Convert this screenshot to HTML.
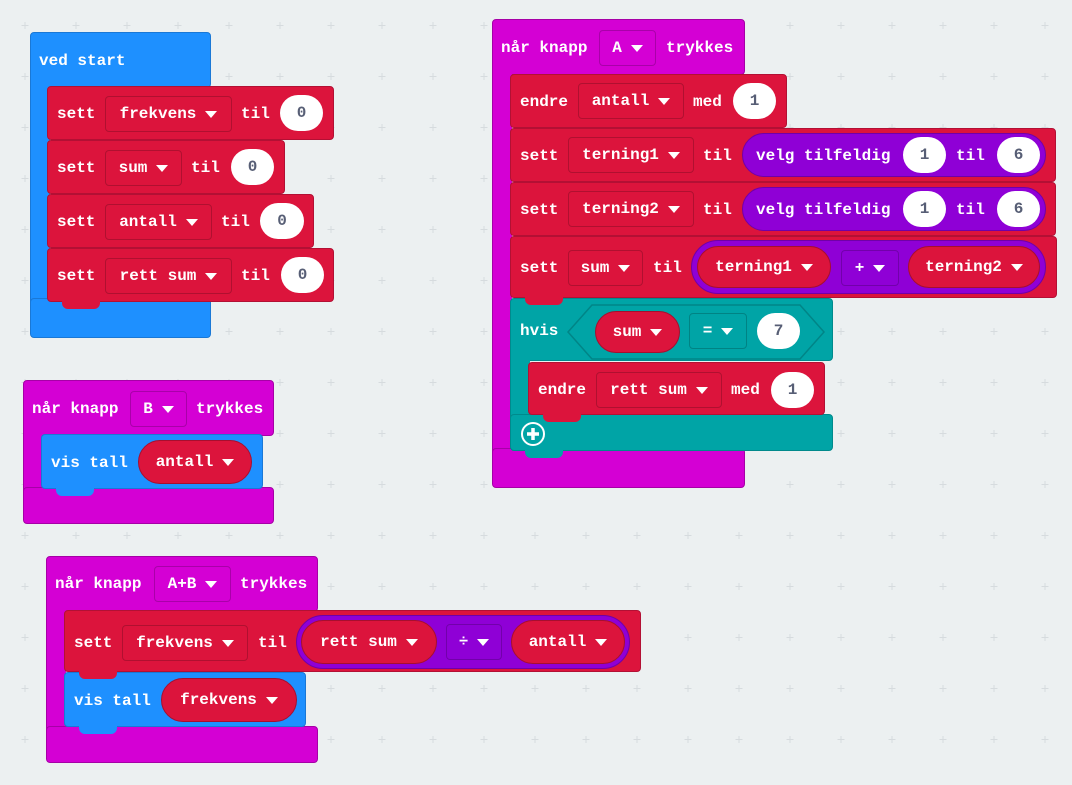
<!DOCTYPE html>
<html><head><meta charset="utf-8"><style>
html,body{margin:0;padding:0}
body{width:1072px;height:785px;position:relative;overflow:hidden;background:#ecf0f1;font-family:"Liberation Mono",monospace}
.b{position:absolute;box-sizing:border-box;border-radius:4px}
.red{background:#dc143c;border:1px solid #b31034}
.mag{background:#d400d4;border:1px solid #a600a6}
.blu{background:#1e90ff;border:1px solid #1a78d6}
.teal{background:#00a4a6;border:1px solid #008a8c}
.pur{background:#8f00d6;border:1px solid #7000a8}
.strip{border-top:0!important;border-bottom:0!important;border-right:0!important;border-radius:0}
.t{position:absolute;color:#fff;font:bold 16px "Liberation Mono",monospace;line-height:20px;white-space:pre}
.dd{position:absolute;box-sizing:border-box;border:1px solid rgba(0,0,0,.2);border-radius:4px;display:flex;align-items:center;justify-content:center;color:#fff;font:bold 16px "Liberation Mono",monospace;white-space:pre;height:36px}
.num{position:absolute;box-sizing:border-box;background:#fff;border-radius:18px;display:flex;align-items:center;justify-content:center;color:#575e75;font:bold 16px "Liberation Mono",monospace;height:36px}
.pill{position:absolute;box-sizing:border-box;background:#dc143c;border:1px solid #a80e2e;display:flex;align-items:center;justify-content:center;color:#fff;font:bold 16px "Liberation Mono",monospace;white-space:pre}
.tri{display:inline-block;width:0;height:0;border-left:6px solid transparent;border-right:6px solid transparent;border-top:7px solid #fff;margin-left:9px}
.tab{position:absolute;height:8px;width:38px;border-radius:0 0 6px 6px}
</style></head><body>
<svg style="position:absolute;left:0;top:0" width="1072" height="785"><defs><pattern id="p" x="0" y="0" width="51" height="51" patternUnits="userSpaceOnUse"><path d="M25 22v7M21.5 25.5h7" stroke="#d6dbde" stroke-width="1"/></pattern></defs><rect width="1072" height="785" fill="url(#p)"/></svg>

<!-- ved start -->
<div class="b blu" style="left:30px;top:32px;width:181px;height:56px"></div>
<div class="b blu strip" style="left:30px;top:80px;width:20px;height:240px"></div>
<div class="b blu" style="left:30px;top:298px;width:181px;height:40px"></div>
<div class="t" style="left:39px;top:51px">ved start</div>

<div class="b red" style="left:47px;top:86px;width:287px;height:54px"></div>
<div class="t" style="left:57px;top:104px">sett</div>
<div class="dd" style="left:105px;top:96px;width:127px">frekvens<span class="tri"></span></div>
<div class="t" style="left:241px;top:104px">til</div>
<div class="num" style="left:280px;top:95px;width:43px">0</div>

<div class="b red" style="left:47px;top:140px;width:238px;height:54px"></div>
<div class="t" style="left:57px;top:158px">sett</div>
<div class="dd" style="left:105px;top:150px;width:77px">sum<span class="tri"></span></div>
<div class="t" style="left:191px;top:158px">til</div>
<div class="num" style="left:231px;top:149px;width:43px">0</div>

<div class="b red" style="left:47px;top:194px;width:267px;height:54px"></div>
<div class="t" style="left:57px;top:212px">sett</div>
<div class="dd" style="left:105px;top:204px;width:107px">antall<span class="tri"></span></div>
<div class="t" style="left:221px;top:212px">til</div>
<div class="num" style="left:260px;top:203px;width:44px">0</div>

<div class="b red" style="left:47px;top:248px;width:287px;height:54px"></div>
<div class="tab" style="left:62px;top:301px;background:#dc143c"></div>
<div class="t" style="left:57px;top:266px">sett</div>
<div class="dd" style="left:105px;top:258px;width:127px">rett sum<span class="tri"></span></div>
<div class="t" style="left:241px;top:266px">til</div>
<div class="num" style="left:281px;top:257px;width:43px">0</div>

<!-- når knapp A -->
<div class="b mag" style="left:492px;top:19px;width:253px;height:56px"></div>
<div class="b mag strip" style="left:492px;top:60px;width:20px;height:400px"></div>
<div class="b mag" style="left:492px;top:448px;width:253px;height:40px"></div>
<div class="t" style="left:501px;top:38px">når knapp</div>
<div class="dd" style="left:599px;top:30px;width:57px">A<span class="tri"></span></div>
<div class="t" style="left:666px;top:38px">trykkes</div>

<div class="b red" style="left:510px;top:74px;width:277px;height:54px"></div>
<div class="t" style="left:520px;top:92px">endre</div>
<div class="dd" style="left:578px;top:83px;width:106px">antall<span class="tri"></span></div>
<div class="t" style="left:693px;top:92px">med</div>
<div class="num" style="left:733px;top:83px;width:43px">1</div>

<div class="b red" style="left:510px;top:128px;width:546px;height:54px"></div>
<div class="t" style="left:520px;top:146px">sett</div>
<div class="dd" style="left:568px;top:137px;width:126px">terning1<span class="tri"></span></div>
<div class="t" style="left:703px;top:146px">til</div>
<div class="b pur" style="left:742px;top:133px;width:304px;height:44px;border-radius:22px"></div>
<div class="t" style="left:756px;top:146px">velg tilfeldig</div>
<div class="num" style="left:903px;top:137px;width:43px">1</div>
<div class="t" style="left:956px;top:146px">til</div>
<div class="num" style="left:997px;top:137px;width:43px">6</div>

<div class="b red" style="left:510px;top:182px;width:546px;height:54px"></div>
<div class="t" style="left:520px;top:200px">sett</div>
<div class="dd" style="left:568px;top:191px;width:126px">terning2<span class="tri"></span></div>
<div class="t" style="left:703px;top:200px">til</div>
<div class="b pur" style="left:742px;top:187px;width:304px;height:44px;border-radius:22px"></div>
<div class="t" style="left:756px;top:200px">velg tilfeldig</div>
<div class="num" style="left:903px;top:191px;width:43px">1</div>
<div class="t" style="left:956px;top:200px">til</div>
<div class="num" style="left:997px;top:191px;width:43px">6</div>

<div class="b red" style="left:510px;top:236px;width:547px;height:62px"></div>
<div class="t" style="left:520px;top:258px">sett</div>
<div class="dd" style="left:568px;top:250px;width:75px">sum<span class="tri"></span></div>
<div class="t" style="left:653px;top:258px">til</div>
<div class="b pur" style="left:691px;top:240px;width:355px;height:54px;border-radius:27px"></div>
<div class="pill" style="left:697px;top:246px;width:134px;height:42px;border-radius:21px">terning1<span class="tri"></span></div>
<div class="dd" style="left:841px;top:250px;width:58px">+<span class="tri"></span></div>
<div class="pill" style="left:908px;top:246px;width:132px;height:42px;border-radius:21px">terning2<span class="tri"></span></div>

<!-- hvis -->
<div class="b teal" style="left:510px;top:298px;width:323px;height:63px"></div>
<div class="b teal strip" style="left:510px;top:355px;width:20px;height:70px"></div>
<div class="b teal" style="left:510px;top:414px;width:323px;height:37px"></div>
<div class="tab" style="left:525px;top:450px;background:#00a4a6"></div>
<div class="tab" style="left:525px;top:297px;background:#dc143c"></div>
<div class="t" style="left:520px;top:321px">hvis</div>
<svg style="position:absolute;left:566px;top:304px" width="260" height="56"><polygon points="2,28 26,1 234,1 258,28 234,55 26,55" fill="#00a4a6" stroke="#008587" stroke-width="1.5"/></svg>
<div class="pill" style="left:595px;top:311px;width:85px;height:42px;border-radius:21px">sum<span class="tri"></span></div>
<div class="dd" style="left:689px;top:313px;width:58px">=<span class="tri"></span></div>
<div class="num" style="left:757px;top:313px;width:43px">7</div>

<div class="b red" style="left:528px;top:362px;width:297px;height:53px"></div>
<div class="tab" style="left:543px;top:414px;background:#dc143c"></div>
<div class="t" style="left:538px;top:380px">endre</div>
<div class="dd" style="left:596px;top:372px;width:126px">rett sum<span class="tri"></span></div>
<div class="t" style="left:731px;top:380px">med</div>
<div class="num" style="left:771px;top:372px;width:43px">1</div>
<svg style="position:absolute;left:520px;top:421px" width="26" height="26"><circle cx="13" cy="13" r="11" fill="none" stroke="#fff" stroke-width="2"/><path d="M13 7v12M7 13h12" stroke="#fff" stroke-width="3.5"/></svg>

<!-- når knapp B -->
<div class="b mag" style="left:23px;top:380px;width:251px;height:56px"></div>
<div class="b mag strip" style="left:23px;top:420px;width:20px;height:80px"></div>
<div class="b mag" style="left:23px;top:487px;width:251px;height:37px"></div>
<div class="t" style="left:32px;top:399px">når knapp</div>
<div class="dd" style="left:130px;top:391px;width:57px">B<span class="tri"></span></div>
<div class="t" style="left:196px;top:399px">trykkes</div>
<div class="b blu" style="left:41px;top:434px;width:222px;height:55px"></div>
<div class="tab" style="left:56px;top:488px;background:#1e90ff"></div>
<div class="t" style="left:51px;top:453px">vis tall</div>
<div class="pill" style="left:138px;top:440px;width:114px;height:44px;border-radius:22px">antall<span class="tri"></span></div>

<!-- når knapp A+B -->
<div class="b mag" style="left:46px;top:556px;width:272px;height:56px"></div>
<div class="b mag strip" style="left:46px;top:600px;width:20px;height:140px"></div>
<div class="b mag" style="left:46px;top:726px;width:272px;height:37px"></div>
<div class="t" style="left:55px;top:574px">når knapp</div>
<div class="dd" style="left:154px;top:566px;width:77px">A+B<span class="tri"></span></div>
<div class="t" style="left:240px;top:574px">trykkes</div>

<div class="b red" style="left:64px;top:610px;width:577px;height:62px"></div>
<div class="t" style="left:74px;top:633px">sett</div>
<div class="dd" style="left:122px;top:625px;width:126px">frekvens<span class="tri"></span></div>
<div class="t" style="left:258px;top:633px">til</div>
<div class="b pur" style="left:296px;top:615px;width:334px;height:54px;border-radius:27px"></div>
<div class="pill" style="left:301px;top:620px;width:136px;height:44px;border-radius:22px">rett sum<span class="tri"></span></div>
<div class="dd" style="left:446px;top:624px;width:56px">÷<span class="tri"></span></div>
<div class="pill" style="left:511px;top:620px;width:114px;height:44px;border-radius:22px">antall<span class="tri"></span></div>

<div class="b blu" style="left:64px;top:672px;width:242px;height:55px"></div>
<div class="tab" style="left:79px;top:671px;background:#dc143c"></div>
<div class="tab" style="left:79px;top:726px;background:#1e90ff"></div>
<div class="t" style="left:74px;top:691px">vis tall</div>
<div class="pill" style="left:161px;top:678px;width:136px;height:44px;border-radius:22px">frekvens<span class="tri"></span></div>
</body></html>
